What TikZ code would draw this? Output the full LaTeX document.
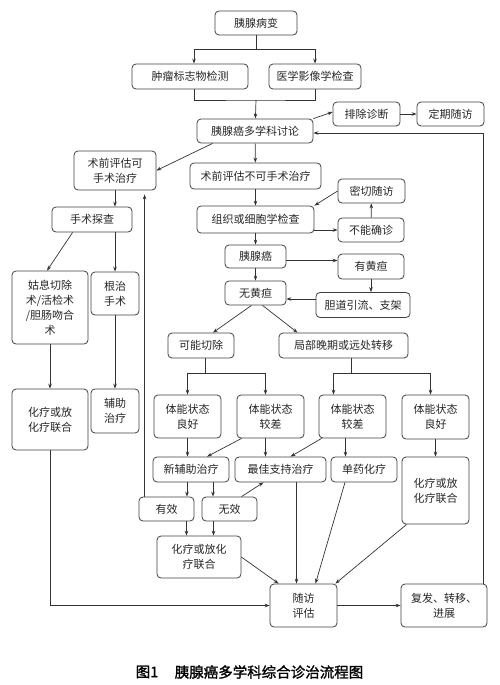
\documentclass[tikz,border=0pt]{standalone}
\usepackage{fontspec}
\usetikzlibrary{arrows.meta,calc}
\newfontfamily\cjk{Noto Sans CJK SC}
\newfontfamily\capfont[AutoFakeBold=1.5]{Noto Sans CJK SC}
\pgfdeclarelayer{edgelayer}
\pgfdeclarelayer{nodelayer}
\pgfsetlayers{edgelayer,nodelayer,main}
\tikzstyle{none}=[inner sep=0mm]
\tikzstyle{bx}=[draw=black!75,line width=0.8pt,rounded corners=4pt,inner sep=0pt,align=center,font=\cjk\fontsize{11}{15}\selectfont,text=black!85]
\tikzstyle{diredge}=[-{Stealth[length=5pt,width=3.6pt]},line width=0.7pt,draw=black!80]
\tikzstyle{plain}=[line width=0.7pt,draw=black!80]
\tikzstyle{caption}=[inner sep=0pt,font=\capfont\bfseries\fontsize{14.5}{16}\selectfont]
\tikzset{sz/.style 2 args={minimum width=#1,minimum height=#2}}

\begin{document}
\begin{tikzpicture}[x=1pt,y=-1pt]
	\useasboundingbox (0,0) rectangle (500,685);
	\begin{pgfonlayer}{nodelayer}
		\node [style=bx,sz={82pt}{24pt}] (lesion) at (256, 23) {胰腺病变};
		\node [style=bx,sz={116pt}{25pt}] (marker) at (190, 76.5) {肿瘤标志物检测};
		\node [style=bx,sz={92pt}{25pt}] (imaging) at (315, 76.5) {医学影像学检查};
		\node [style=bx,sz={116pt}{24pt}] (mdt) at (255, 131) {胰腺癌多学科讨论};
		\node [style=bx,sz={67pt}{24pt}] (exclude) at (366.5, 114) {排除诊断};
		\node [style=bx,sz={67pt}{24pt}] (regular) at (450.5, 114) {定期随访};
		\node [style=bx,sz={82pt}{39pt}] (resect) at (115, 170.5) {术前评估可\\手术治疗};
		\node [style=bx,sz={131pt}{26pt}] (unresect) at (255.5, 176) {术前评估不可手术治疗};
		\node [style=bx,sz={80pt}{25pt}] (explore) at (92, 219.5) {手术探查};
		\node [style=bx,sz={117pt}{27pt}] (biopsy) at (255.5, 219.5) {组织或细胞学检查};
		\node [style=bx,sz={67pt}{24pt}] (close) at (371.5, 191) {密切随访};
		\node [style=bx,sz={66pt}{24pt}] (unsure) at (371, 230) {不能确诊};
		\node [style=bx,sz={61pt}{23pt}] (cancer) at (255.5, 256.5) {胰腺癌};
		\node [style=bx,sz={66pt}{25pt}] (jaundice) at (371, 266.5) {有黄疸};
		\node [style=bx,sz={61pt}{24pt}] (nojaund) at (255.5, 293) {无黄疸};
		\node [style=bx,sz={94pt}{25pt}] (drain) at (363, 305) {胆道引流、支架};
		\node [style=bx,sz={76pt}{73pt}] (palliative) at (50, 307.5) {姑息切除\\术/活检术\\/胆肠吻合\\术};
		\node [style=bx,sz={48pt}{43pt}] (radical) at (115, 293.5) {根治\\手术};
		\node [style=bx,sz={66pt}{25pt}] (possible) at (201, 345.5) {可能切除};
		\node [style=bx,sz={129pt}{25pt}] (advanced) at (343.5, 345.5) {局部晚期或远处转移};
		\node [style=bx,sz={67pt}{43pt}] (good1) at (187.5, 416.5) {体能状态\\良好};
		\node [style=bx,sz={67pt}{43pt}] (poor1) at (270.5, 416.5) {体能状态\\较差};
		\node [style=bx,sz={67pt}{43pt}] (poor2) at (352.5, 416.5) {体能状态\\较差};
		\node [style=bx,sz={67pt}{44pt}] (good2) at (435.5, 417) {体能状态\\良好};
		\node [style=bx,sz={76pt}{61pt}] (chemoL) at (50, 419.5) {化疗或放\\化疗联合};
		\node [style=bx,sz={48pt}{44pt}] (adjuvant) at (115, 411) {辅助\\治疗};
		\node [style=bx,sz={76pt}{25pt}] (neoadj) at (191, 469.5) {新辅助治疗};
		\node [style=bx,sz={91pt}{25pt}] (bsc) at (280.5, 469.5) {最佳支持治疗};
		\node [style=bx,sz={66pt}{25pt}] (single) at (364, 469.5) {单药化疗};
		\node [style=bx,sz={67pt}{67pt}] (chemoR) at (435.5, 490.5) {化疗或放\\化疗联合};
		\node [style=bx,sz={55pt}{24pt}] (effective) at (166.5, 509) {有效};
		\node [style=bx,sz={55pt}{24pt}] (ineffective) at (229.5, 509) {无效};
		\node [style=bx,sz={84pt}{42pt}] (chemoM) at (199, 557) {化疗或放化\\疗联合};
		\node [style=bx,sz={67pt}{43pt}] (follow) at (303.5, 605.5) {随访\\评估};
		\node [style=bx,sz={86pt}{43pt}] (relapse) at (444, 605.5) {复发、转移、\\进展};
		\node [style=caption] (fig) at (147, 672) {图1};
		\node [style=caption] (title) at (269, 672) {胰腺癌多学科综合诊治流程图};
		\coordinate (split) at (256, 49);
		\coordinate (join) at (256, 100);
	\end{pgfonlayer}
	\begin{pgfonlayer}{edgelayer}
		% top part
		\draw [style=plain] (lesion.south) -- (split);
		\draw [style=diredge] (split) -| ([xshift=4pt]marker.north);
		\draw [style=diredge] (split) -| (imaging.north);
		\draw [style=plain] ([xshift=4pt]marker.south) |- (join) -| (imaging.south);
		\draw [style=diredge] (join) -- (mdt);
		\draw [style=diredge] (mdt.north east) -- ([yshift=2pt]exclude.west);
		\draw [style=diredge] (exclude) -- (regular);
		\draw [style=diredge] ([xshift=-4pt]relapse.north east) |- ([yshift=-2pt]mdt.east);
		\draw [style=diredge] ([xshift=16pt]mdt.south west) -- (resect.east);
		\draw [style=diredge] (mdt) -- (unresect);
		% resectable branch
		\draw [style=diredge] (resect.south) -- (resect.south |- explore.north);
		\draw [style=diredge] ([xshift=21pt]explore.south west) -- ([xshift=-3pt]palliative.north);
		\draw [style=diredge] (explore.south -| radical) -- (radical.north);
		\draw [style=diredge] (palliative) -- (chemoL);
		\draw [style=diredge] (radical) -- (adjuvant);
		\draw [style=diredge] (chemoL.south) |- (follow.west);
		% unresectable branch
		\draw [style=diredge] (unresect) -- (biopsy);
		\draw [style=diredge] (biopsy.east |- unsure.west) -- (unsure.west);
		\draw [style=diredge] (unsure) -- (close);
		\draw [style=diredge] (close.west) -- (biopsy.north east);
		\draw [style=diredge] (biopsy) -- (cancer);
		\draw [style=diredge] ([yshift=-4pt]cancer.east) -- ([yshift=-4pt]cancer.east -| jaundice.west);
		\draw [style=diredge] (cancer) -- (nojaund);
		\draw [style=diredge] (jaundice.south) -- (jaundice.south |- drain.north);
		\draw [style=diredge] ([yshift=6pt]drain.west) -- ([yshift=6pt]drain.west -| nojaund.east);
		\draw [style=diredge] ([xshift=-4pt]nojaund.south) -- ([xshift=12pt]possible.north);
		\draw [style=diredge] ([xshift=7pt]nojaund.south) -- ([xshift=-46pt]advanced.north);
		\draw [style=plain] ([xshift=4pt]possible.south) -- ++(0,15) coordinate (fork1);
		\draw [style=diredge] (fork1) -| (good1.north);
		\draw [style=diredge] (fork1) -| ([xshift=-5pt]poor1.north);
		\draw [style=plain] ([xshift=8pt]advanced.south) -- ++(0,15) coordinate (fork2);
		\draw [style=diredge] (fork2) -| ([xshift=-19pt]poor2.north);
		\draw [style=diredge] (fork2) -| ([xshift=-5pt]good2.north);
		% performance status
		\draw [style=diredge] (good1.south) -- (good1.south |- neoadj.north);
		\draw [style=diredge] ([xshift=5pt]poor1.south west) -- ([xshift=16pt]neoadj.north);
		\draw [style=diredge] ([xshift=-5pt]poor1.south) -- ([xshift=-5pt]poor1.south |- bsc.north);
		\draw [style=diredge] ([xshift=3pt]poor2.south west) -- ([xshift=10pt]bsc.north);
		\draw [style=diredge] ([xshift=-7pt]poor2.south) -- ([xshift=-7pt]poor2.south |- single.north);
		\draw [style=diredge] (good2) -- (chemoR);
		% treatment
		\draw [style=diredge] ([xshift=-4pt]neoadj.south) -- ([xshift=-4pt]neoadj.south |- effective.north);
		\draw [style=diredge] ([xshift=22pt]neoadj.south) -- ([xshift=22pt]neoadj.south |- ineffective.north);
		\draw [style=diredge] ([xshift=12pt]ineffective.north) -- ([xshift=-17pt]bsc.south);
		\draw [style=diredge,shorten >=4pt] ([xshift=6pt]effective.north west) -- ([xshift=6pt]effective.north west |- resect.south);
		\draw [style=diredge] ([xshift=20pt]effective.south) -- ([xshift=20pt]effective.south |- chemoM.north);
		\draw [style=diredge] ([xshift=-16pt]ineffective.south) -- ([xshift=-16pt]ineffective.south |- chemoM.north);
		\draw [style=diredge] (chemoM.east) -- ([xshift=9pt]follow.north west);
		\draw [style=diredge] ([xshift=16pt]bsc.south) -- ([xshift=16pt]bsc.south |- follow.north);
		\draw [style=diredge] ([xshift=-19pt]single.south) -- ([xshift=12pt]follow.north);
		\draw [style=diredge] ([xshift=5pt]chemoR.south west) -- ([xshift=-2pt]follow.north east);
		\draw [style=diredge] (follow) -- (relapse);
	\end{pgfonlayer}
\end{tikzpicture}
\end{document}
